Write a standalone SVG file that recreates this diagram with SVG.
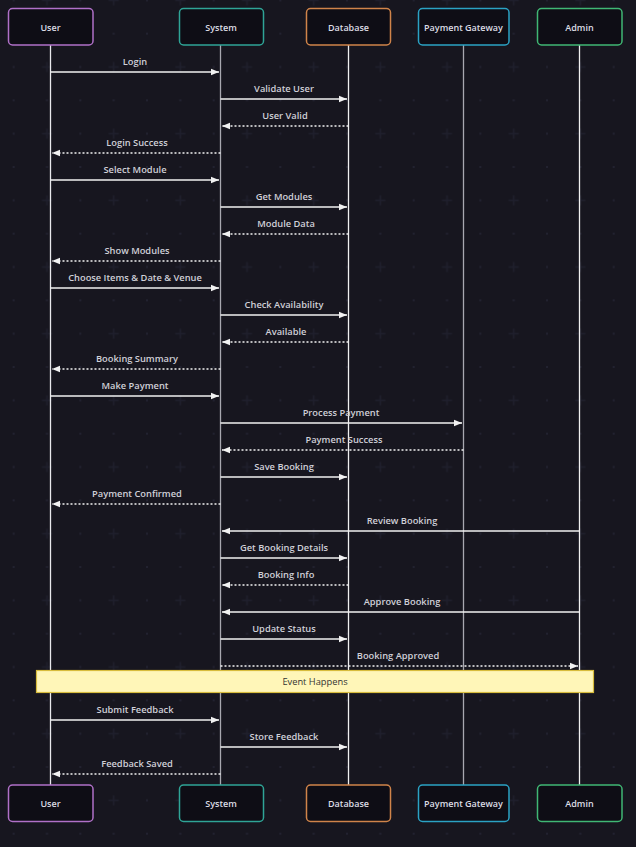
<svg xmlns="http://www.w3.org/2000/svg" width="636" height="847" viewBox="0 0 636 847">
<style>
.box{fill:#0e0d15;stroke-width:1.5}
.nl{font-family:"Open Sans","Liberation Sans",sans-serif;font-size:9px;font-weight:600;fill:#dcdce4;text-anchor:middle}
.ml{font-family:"Open Sans","Liberation Sans",sans-serif;font-size:9.3px;font-weight:600;fill:#d0d0d8;text-anchor:middle}
.life{stroke-width:1.3}
.s{stroke:#f2f2f2;stroke-width:1.3;fill:none}
.d{stroke:#f2f2f2;stroke-width:1.3;fill:none;stroke-dasharray:2 2}
</style>
<defs>
<pattern id="bg" x="13.67" y="-33" width="66.67" height="66.67" patternUnits="userSpaceOnUse">
<rect width="66.67" height="66.67" fill="#17161f"/>
<rect x="-1" y="-1" width="2" height="2" fill="#222230"/>
<rect x="32.33" y="-1" width="2" height="2" fill="#222230"/>
<rect x="-1" y="32.33" width="2" height="2" fill="#222230"/>
<rect x="65.67" y="-1" width="2" height="2" fill="#222230"/>
<rect x="-1" y="65.67" width="2" height="2" fill="#222230"/>
<rect x="65.67" y="65.67" width="2" height="2" fill="#222230"/>
<rect x="32.33" y="65.67" width="2" height="2" fill="#222230"/>
<rect x="65.67" y="32.33" width="2" height="2" fill="#222230"/>
<path d="M28.33 33.33h10M33.33 28.33v10" stroke="#1f1f2c" stroke-width="1.6"/>
</pattern>
<marker id="ah" viewBox="0 0 8 8" refX="8" refY="4" markerWidth="8" markerHeight="8" markerUnits="userSpaceOnUse" orient="auto">
<path d="M0 0.8L8 4L0 7.2z" fill="#f2f2f2"/>
</marker>
</defs>
<rect width="636" height="847" fill="url(#bg)"/>

<g id="lifelines">
<line class="life" x1="50.5" y1="45" x2="50.5" y2="785" stroke="#e8e8ec"/>
<line class="life" x1="220.5" y1="45" x2="220.5" y2="785" stroke="#a8a8b0"/>
<line class="life" x1="348.5" y1="45" x2="348.5" y2="785" stroke="#f0f0f0"/>
<line class="life" x1="463.5" y1="45" x2="463.5" y2="785" stroke="#a8a8b0"/>
<line class="life" x1="579.5" y1="45" x2="579.5" y2="785" stroke="#f0f0f0"/>
</g>

<g id="note">
<rect x="36.5" y="670.5" width="557" height="22" fill="#fff6b8" stroke="#d8bc3c" stroke-width="1.2"/>
<text x="315" y="685" class="nl" style="fill:#333;font-weight:500;font-size:9.3px">Event Happens</text>
</g>

<g id="connectors">
<line class="s" x1="50.5" y1="72" x2="219" y2="72" marker-end="url(#ah)"/>
<text class="ml" x="135" y="65">Login</text>
<line class="s" x1="220.5" y1="99" x2="347" y2="99" marker-end="url(#ah)"/>
<text class="ml" x="284" y="92">Validate User</text>
<line class="d" x1="348.5" y1="126" x2="222" y2="126" marker-end="url(#ah)"/>
<text class="ml" x="285" y="119">User Valid</text>
<line class="d" x1="220.5" y1="153" x2="52" y2="153" marker-end="url(#ah)"/>
<text class="ml" x="137" y="146">Login Success</text>
<line class="s" x1="50.5" y1="180" x2="219" y2="180" marker-end="url(#ah)"/>
<text class="ml" x="135" y="173">Select Module</text>
<line class="s" x1="220.5" y1="207" x2="347" y2="207" marker-end="url(#ah)"/>
<text class="ml" x="284" y="200">Get Modules</text>
<line class="d" x1="348.5" y1="234" x2="222" y2="234" marker-end="url(#ah)"/>
<text class="ml" x="286" y="227">Module Data</text>
<line class="d" x1="220.5" y1="261" x2="52" y2="261" marker-end="url(#ah)"/>
<text class="ml" x="137" y="254">Show Modules</text>
<line class="s" x1="50.5" y1="288" x2="219" y2="288" marker-end="url(#ah)"/>
<text class="ml" x="135" y="281">Choose Items &amp; Date &amp; Venue</text>
<line class="s" x1="220.5" y1="315" x2="347" y2="315" marker-end="url(#ah)"/>
<text class="ml" x="284" y="308">Check Availability</text>
<line class="d" x1="348.5" y1="342" x2="222" y2="342" marker-end="url(#ah)"/>
<text class="ml" x="286" y="335">Available</text>
<line class="d" x1="220.5" y1="369" x2="52" y2="369" marker-end="url(#ah)"/>
<text class="ml" x="137" y="362">Booking Summary</text>
<line class="s" x1="50.5" y1="396" x2="219" y2="396" marker-end="url(#ah)"/>
<text class="ml" x="135" y="389">Make Payment</text>
<line class="s" x1="220.5" y1="423" x2="462" y2="423" marker-end="url(#ah)"/>
<text class="ml" x="341" y="416">Process Payment</text>
<line class="d" x1="463.5" y1="450" x2="222" y2="450" marker-end="url(#ah)"/>
<text class="ml" x="344" y="443">Payment Success</text>
<line class="s" x1="220.5" y1="477" x2="347" y2="477" marker-end="url(#ah)"/>
<text class="ml" x="284" y="470">Save Booking</text>
<line class="d" x1="220.5" y1="504" x2="52" y2="504" marker-end="url(#ah)"/>
<text class="ml" x="137" y="497">Payment Confirmed</text>
<line class="s" x1="579.5" y1="531" x2="222" y2="531" marker-end="url(#ah)"/>
<text class="ml" x="402" y="524">Review Booking</text>
<line class="s" x1="220.5" y1="558" x2="347" y2="558" marker-end="url(#ah)"/>
<text class="ml" x="284" y="551">Get Booking Details</text>
<line class="d" x1="348.5" y1="585" x2="222" y2="585" marker-end="url(#ah)"/>
<text class="ml" x="286" y="578">Booking Info</text>
<line class="s" x1="579.5" y1="612" x2="222" y2="612" marker-end="url(#ah)"/>
<text class="ml" x="402" y="605">Approve Booking</text>
<line class="s" x1="220.5" y1="639" x2="347" y2="639" marker-end="url(#ah)"/>
<text class="ml" x="284" y="632">Update Status</text>
<line class="d" x1="220.5" y1="666" x2="578" y2="666" marker-end="url(#ah)"/>
<text class="ml" x="398" y="659">Booking Approved</text>
<line class="s" x1="50.5" y1="720" x2="219" y2="720" marker-end="url(#ah)"/>
<text class="ml" x="135" y="713">Submit Feedback</text>
<line class="s" x1="220.5" y1="747" x2="347" y2="747" marker-end="url(#ah)"/>
<text class="ml" x="284" y="740">Store Feedback</text>
<line class="d" x1="220.5" y1="774" x2="52" y2="774" marker-end="url(#ah)"/>
<text class="ml" x="137" y="767">Feedback Saved</text>
</g>

<g id="user-top"><rect class="box" x="8.5" y="8.5" width="84.5" height="36.5" rx="4" stroke="#b070c8"/><text class="nl" x="50.5" y="30.5">User</text></g>
<g id="system-top"><rect class="box" x="179.5" y="8.5" width="84" height="36.5" rx="4" stroke="#2fa496"/><text class="nl" x="221" y="30.5">System</text></g>
<g id="database-top"><rect class="box" x="306.5" y="8.5" width="84" height="36.5" rx="4" stroke="#d0844a"/><text class="nl" x="348.5" y="30.5">Database</text></g>
<g id="gateway-top"><rect class="box" x="418.5" y="8.5" width="90.5" height="36.5" rx="4" stroke="#2ba2c4"/><text class="nl" x="463.5" y="30.5">Payment Gateway</text></g>
<g id="admin-top"><rect class="box" x="537.5" y="8.5" width="84.5" height="36.5" rx="4" stroke="#40b774"/><text class="nl" x="579.5" y="30.5">Admin</text></g>

<g id="user-bottom"><rect class="box" x="8.5" y="785" width="84.5" height="36.5" rx="4" stroke="#b070c8"/><text class="nl" x="50.5" y="807">User</text></g>
<g id="system-bottom"><rect class="box" x="179.5" y="785" width="84" height="36.5" rx="4" stroke="#2fa496"/><text class="nl" x="221" y="807">System</text></g>
<g id="database-bottom"><rect class="box" x="306.5" y="785" width="84" height="36.5" rx="4" stroke="#d0844a"/><text class="nl" x="348.5" y="807">Database</text></g>
<g id="gateway-bottom"><rect class="box" x="418.5" y="785" width="90.5" height="36.5" rx="4" stroke="#2ba2c4"/><text class="nl" x="463.5" y="807">Payment Gateway</text></g>
<g id="admin-bottom"><rect class="box" x="537.5" y="785" width="84.5" height="36.5" rx="4" stroke="#40b774"/><text class="nl" x="579.5" y="807">Admin</text></g>
</svg>
